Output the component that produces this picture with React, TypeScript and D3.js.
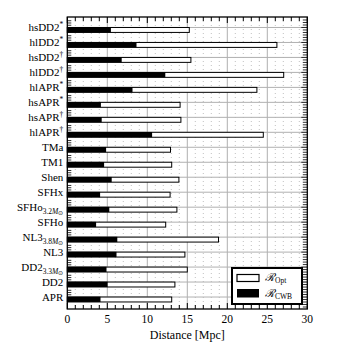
import React from 'react';
import * as d3 from 'd3';

// top to bottom
const models = ['hsDD2', 'hlDD2', 'hsDD2', 'hlDD2', 'hlAPR', 'hsAPR', 'hsAPR', 'hlAPR', 'TMa', 'TM1', 'Shen', 'SFHx', 'SFHo', 'SFHo', 'NL3', 'NL3', 'DD2', 'DD2', 'APR'];
const sups = ['*', '*', '†', '†', '*', '*', '†', '†', '', '', '', '', '', '', '', '', '', '', ''];
const subs = ['', '', '', '', '', '', '', '', '', '', '', '', '3.2', '', '3.8', '', '3.3', '', ''];

const optValues = [15.25, 26.2, 15.45, 27.05, 23.7, 14.1, 14.2, 24.5, 12.9, 13.05, 13.95, 12.85, 13.7, 12.3, 18.9, 14.7, 15.0, 13.45, 13.05];
const cwbValues = [5.45, 8.65, 6.8, 12.25, 8.15, 4.2, 4.3, 10.6, 4.85, 4.6, 5.55, 4.1, 5.25, 3.6, 6.25, 6.15, 4.9, 5.05, 4.15];

const xTicks = [0, 5, 10, 15, 20, 25, 30];

const W = 340;
const H = 345;
const left = 67.3;
const right = 307.3;
const top = 17;
const bottom = 309;
const font = 'Liberation Serif';

const App = () => {
  const x = d3.scaleLinear().domain([0, 30]).range([left, right]);
  const y = d3.scaleLinear().domain([-0.7, 18.8]).range([top, bottom]);
  const barH = 0.33;
  const grid = '#b0b0b0';

  const minorX = d3.range(1, 30).filter(v => v % 5 !== 0);
  const rightTicks = d3.range(-0.5, 18.8, 1 / 6);

  return (
    <svg width={W} height={H} style={{ position: 'absolute', left: 0, top: 0, background: '#fff' }}>
      {/* grid */}
      {minorX.map(v => (
        <line key={'mx' + v} x1={x(v)} x2={x(v)} y1={top} y2={bottom} stroke={grid} strokeWidth={0.8} strokeDasharray="1,3" />
      ))}
      {xTicks.slice(1, -1).map(v => (
        <line key={'gx' + v} x1={x(v)} x2={x(v)} y1={top} y2={bottom} stroke={grid} strokeWidth={1} />
      ))}
      {models.map((m, i) => (
        <line key={'gy' + i} x1={left} x2={right} y1={y(i)} y2={y(i)} stroke={grid} strokeWidth={1} />
      ))}

      {/* bars */}
      {optValues.map((v, i) => (
        <rect key={'o' + i} x={x(0)} y={y(i)} width={x(v) - x(0)} height={y(i + barH) - y(i)} fill="#fff" stroke="#000" strokeWidth={1} />
      ))}
      {cwbValues.map((v, i) => (
        <rect key={'c' + i} x={x(0)} y={y(i) - 0.3} width={x(v) - x(0)} height={y(i + barH) - y(i) + 0.3} fill="#000" />
      ))}

      {/* x ticks top & bottom */}
      {d3.range(0, 31).map(v => {
        const len = v % 5 === 0 ? 6 : 4;
        return (
          <g key={'xt' + v}>
            <line x1={x(v)} x2={x(v)} y1={bottom} y2={bottom - len} stroke="#000" strokeWidth={1} />
            <line x1={x(v)} x2={x(v)} y1={top} y2={top + len} stroke="#000" strokeWidth={1} />
          </g>
        );
      })}

      {/* y ticks */}
      {models.map((m, i) => (
        <g key={'yt' + i}>
          {[0.15, 0.3, 0.45].map(o => (
            <line key={o} x1={left} x2={left + 4} y1={y(i - o)} y2={y(i - o)} stroke="#000" strokeWidth={0.8} />
          ))}
        </g>
      ))}
      {rightTicks.map((v, k) => (
        <line key={'rt' + k} x1={right} x2={right - (k % 6 === 3 ? 6 : 4.5)} y1={y(v)} y2={y(v)} stroke="#000" strokeWidth={0.8} />
      ))}

      {/* frame */}
      <rect x={left} y={top} width={right - left} height={bottom - top} fill="none" stroke="#000" strokeWidth={1.3} />

      {/* labels */}
      <g fontFamily={font}>
        {models.map((m, i) => (
          <text key={'l' + i} x={left - 4} y={y(i)} dy="0.35em" textAnchor="end" fontSize={11}>
            {m}
            {sups[i] && <tspan fontSize={7.5} dy={-4}>{sups[i]}</tspan>}
            {subs[i] && (
              <>
                <tspan fontSize={7.5} dy={3}>{subs[i]}</tspan>
                <tspan fontSize={7.5} fontStyle="italic">M</tspan>
                <tspan fontSize={5.5} dy={1}>⊙</tspan>
              </>
            )}
          </text>
        ))}
        {xTicks.map(v => (
          <text key={'xl' + v} x={x(v)} y={bottom + 14} textAnchor="middle" fontSize={11.5}>{v}</text>
        ))}
        <text x={(left + right) / 2} y={bottom + 30} textAnchor="middle" fontSize={12}>Distance [Mpc]</text>
      </g>

      {/* legend */}
      <rect x={232} y={268} width={70} height={36} fill="#fff" stroke="#000" strokeWidth={2} />
      <rect x={237} y={274.5} width={22} height={7} fill="#fff" stroke="#000" strokeWidth={1.2} />
      <rect x={237} y={289} width={22} height={8.5} fill="#000" />
      <g fontFamily={font}>
        <text x={265} y={281} fontSize={11}>
          <tspan fontStyle="italic">ℛ</tspan>
          <tspan fontSize={7.5} dy={2}>Opt</tspan>
        </text>
        <text x={265} y={296.5} fontSize={11}>
          <tspan fontStyle="italic">ℛ</tspan>
          <tspan fontSize={7.5} dy={2}>CWB</tspan>
        </text>
      </g>
    </svg>
  );
};

export default App;
